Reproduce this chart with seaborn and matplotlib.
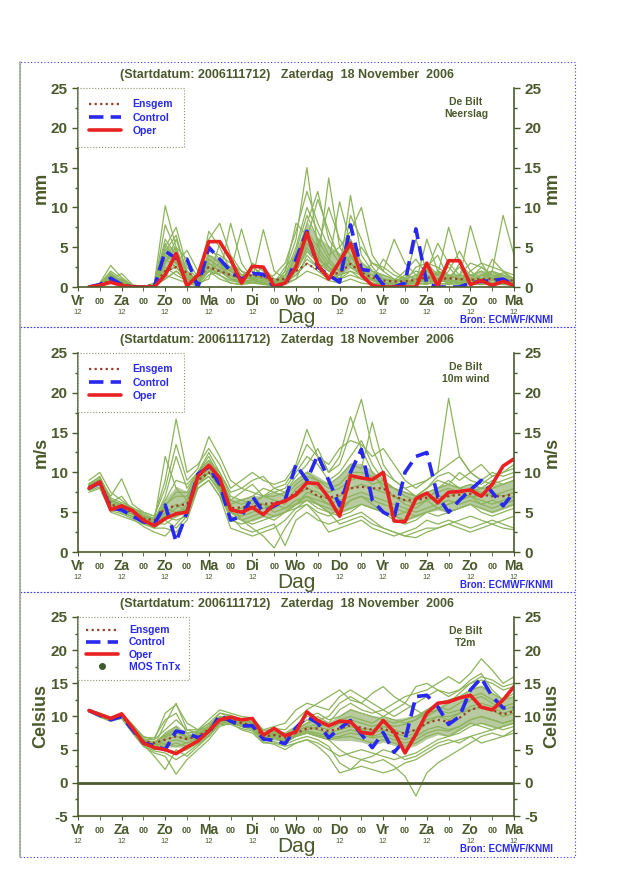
import numpy as np
import pandas as pd
import seaborn as sns
import matplotlib.pyplot as plt
from matplotlib.lines import Line2D
from matplotlib.patches import Rectangle

# ---------------------------------------------------------------
# DATA (6-hourly, +6h .. +240h from Vr 17 Nov 12 UTC)
# ---------------------------------------------------------------
uren = list(range(6, 241, 6))
dagen = ['Vr', 'Za', 'Zo', 'Ma', 'Di', 'Wo', 'Do', 'Vr', 'Za', 'Zo', 'Ma']

# Neerslag (mm)
rr_oper = [0, 0.2, 0.6, 0.2, 0, 0, 0, 1.5, 4.2, 0.1, 1.5, 5.7, 5.7, 3.5, 0.5, 2.6, 2.5, 0.1, 0.5, 2.5,
           6.8, 2.8, 1.0, 3.2, 5.5, 1.5, 0.2, 0, 0, 0, 0, 3.0, 0.1, 3.3, 3.3, 0.3, 0.8, 0.2, 0.7, 0.2]
rr_control = [0, 0.3, 1.1, 0.3, 0, 0, 0, 4.5, 3.6, 3.5, 0, 5.0, 3.5, 2.0, 1.0, 1.7, 1.6, 0, 0.1, 3.5,
              7.0, 2.5, 1.5, 0.6, 7.8, 2.2, 2.0, 0.3, 0, 0.5, 7.3, 0.4, 0, 0, 0, 0.5, 0.7, 0.8, 1.0, 0.2]
rr_ensgem = [0, 0.3, 0.8, 0.4, 0.1, 0.1, 0.3, 2.0, 2.5, 1.8, 1.2, 2.5, 2.0, 1.5, 1.2, 1.5, 1.3, 0.9, 1.0, 2.0,
             2.9, 2.2, 1.5, 1.8, 2.9, 1.8, 1.2, 0.8, 0.7, 0.7, 0.9, 1.2, 1.0, 1.1, 1.0, 0.9, 1.0, 1.0, 0.9, 0.8]
rr_leden = [
    [0, 0.2, 1.5, 0.5, 0, 0, 0.2, 3.0, 6.0, 2.0, 0.5, 4.0, 3.0, 1.0, 0.5, 1.0, 1.5, 0.5, 1.0, 3.0, 6.0, 4.0, 2.0, 3.0, 5.0, 2.0, 1.0, 0.5, 0.2, 0.5, 1.0, 2.0, 1.5, 2.5, 1.0, 0.5, 1.5, 2.0, 1.0, 0.5],
    [0, 0.5, 2.7, 1.2, 0.2, 0, 0.5, 10.2, 5.0, 1.0, 0.8, 3.0, 2.0, 1.5, 0.3, 0.8, 0.6, 0.2, 2.0, 6.0, 15.0, 5.0, 3.0, 2.0, 4.0, 1.5, 0.8, 0.3, 0.5, 1.0, 0.5, 0.3, 1.0, 0.8, 0.5, 2.0, 3.0, 1.0, 0.5, 0.3],
    [0, 0.1, 1.0, 1.7, 0.3, 0, 0, 5.0, 7.5, 2.5, 1.0, 6.0, 8.0, 4.0, 2.0, 1.5, 1.0, 0.8, 1.5, 3.5, 8.0, 12.0, 6.0, 4.0, 3.0, 2.0, 1.5, 1.0, 0.8, 1.2, 2.0, 1.5, 1.0, 0.5, 1.0, 1.5, 0.8, 1.2, 1.8, 1.0],
    [0, 0.3, 1.8, 0.6, 0, 0, 0.3, 4.0, 3.0, 4.6, 2.0, 2.5, 1.5, 8.0, 3.0, 1.0, 7.2, 2.0, 1.0, 2.0, 5.0, 3.0, 13.7, 5.0, 3.0, 1.5, 3.0, 2.5, 1.5, 1.0, 1.5, 0.5, 1.5, 7.5, 3.0, 1.0, 0.5, 2.0, 1.5, 0.5],
    [0, 0.2, 0.8, 0.3, 0, 0, 0, 2.0, 3.5, 1.5, 0.5, 7.0, 5.0, 2.0, 7.3, 2.5, 1.5, 1.0, 0.5, 1.0, 4.0, 2.5, 3.0, 10.7, 5.5, 2.0, 1.0, 0.5, 0.3, 0.5, 6.0, 2.0, 1.0, 1.0, 1.5, 3.0, 2.5, 1.5, 1.0, 0.8],
    [0, 0.1, 1.2, 0.8, 0.1, 0, 0.1, 7.8, 4.5, 0.5, 1.5, 5.0, 3.5, 2.5, 1.0, 0.5, 0.5, 0.3, 0.8, 4.5, 9.0, 6.0, 3.5, 2.0, 11.5, 4.0, 2.0, 1.0, 0.5, 0.3, 0.8, 3.0, 2.5, 1.5, 1.0, 7.7, 3.0, 2.5, 2.0, 1.5],
    [0, 0.4, 2.0, 1.0, 0.2, 0, 0.2, 1.0, 2.0, 1.0, 0.3, 2.0, 1.0, 0.5, 0.3, 3.0, 2.0, 0.5, 1.5, 5.0, 10.0, 7.0, 4.0, 5.0, 7.0, 10.0, 4.0, 2.0, 1.0, 0.5, 0.5, 6.0, 2.0, 1.0, 0.5, 0.5, 1.0, 2.0, 9.0, 4.0],
    [0, 0.2, 0.6, 0.2, 0, 0, 0, 3.5, 2.5, 1.0, 0.4, 3.5, 2.5, 1.5, 1.0, 1.2, 1.0, 0.6, 0.5, 1.5, 3.0, 2.0, 1.0, 1.5, 2.0, 1.0, 0.5, 0.3, 0.5, 1.5, 1.0, 0.5, 2.0, 1.5, 1.0, 0.8, 1.5, 1.0, 0.7, 0.5],
    [0, 0.3, 1.4, 0.9, 0.1, 0, 0.4, 6.0, 4.0, 2.0, 0.8, 2.0, 3.0, 2.0, 1.5, 2.0, 1.0, 1.5, 3.0, 7.0, 12.0, 8.0, 5.0, 3.0, 6.0, 3.0, 2.0, 1.5, 1.0, 0.8, 0.5, 1.0, 0.5, 2.0, 4.5, 2.0, 1.0, 0.5, 0.8, 0.5],
    [0, 0.1, 0.9, 0.4, 0, 0, 0.1, 2.5, 1.5, 0.8, 0.2, 4.5, 4.0, 3.0, 2.0, 0.8, 0.5, 0.2, 0.5, 2.5, 5.5, 3.5, 2.5, 1.0, 3.5, 5.0, 3.0, 2.0, 6.0, 3.0, 1.5, 2.5, 4.0, 1.0, 0.5, 1.0, 0.5, 0.3, 0.5, 0.3],
    [0, 0.2, 1.1, 0.5, 0, 0, 0.2, 4.5, 6.5, 1.5, 0.6, 3.0, 2.0, 1.0, 0.8, 1.5, 2.5, 1.0, 1.0, 3.0, 7.0, 5.0, 10.0, 6.0, 4.0, 2.0, 1.0, 0.5, 0.3, 0.6, 2.5, 3.0, 1.5, 0.5, 3.0, 1.5, 2.0, 1.0, 1.5, 1.0],
    [0, 0.1, 0.5, 0.2, 0, 0, 0, 1.5, 1.0, 0.5, 0.1, 1.5, 2.0, 1.0, 0.5, 0.6, 0.4, 0.1, 0.3, 1.0, 2.0, 1.5, 0.8, 0.5, 1.0, 0.5, 0.3, 0.1, 0.1, 0.2, 0.3, 0.5, 0.3, 0.5, 0.3, 0.4, 0.3, 0.5, 0.3, 0.2],
    [0, 0.3, 1.6, 0.7, 0.1, 0, 0.3, 3.0, 5.0, 3.5, 1.2, 3.5, 2.5, 2.0, 1.0, 2.5, 1.5, 0.5, 2.5, 4.0, 6.0, 11.0, 7.0, 3.5, 2.5, 1.5, 1.0, 3.5, 2.0, 1.0, 0.5, 2.0, 5.5, 3.0, 1.5, 1.0, 0.5, 3.5, 2.0, 1.0],
    [0, 0.2, 1.3, 0.6, 0, 0, 0.1, 2.0, 2.5, 1.0, 0.4, 2.5, 1.5, 0.8, 0.5, 1.0, 0.8, 0.5, 0.8, 1.5, 3.5, 2.5, 1.5, 1.0, 2.0, 1.5, 0.8, 0.5, 0.5, 0.3, 0.5, 1.0, 0.8, 0.6, 0.8, 1.0, 0.6, 0.8, 0.6, 0.4],
    [0, 0.1, 0.7, 0.3, 0, 0, 0.1, 5.5, 3.0, 1.2, 0.5, 1.0, 5.5, 3.5, 1.5, 1.0, 0.5, 0.3, 2.0, 8.0, 6.5, 4.5, 2.5, 1.5, 9.0, 6.0, 2.5, 1.0, 0.8, 2.0, 3.5, 1.5, 0.8, 1.2, 2.5, 1.0, 2.5, 1.5, 1.0, 0.6],
    [0, 0.2, 1.0, 0.5, 0, 0, 0.2, 1.0, 2.0, 0.8, 0.3, 2.0, 1.5, 0.5, 0.3, 0.5, 0.3, 0.2, 0.5, 2.0, 4.5, 3.0, 2.0, 1.0, 1.5, 1.0, 0.5, 0.3, 0.2, 0.3, 0.5, 0.8, 0.5, 0.3, 0.5, 0.5, 0.8, 0.5, 0.5, 0.3],
]

# 10m wind (m/s)
ff_oper = [8.0, 8.8, 5.3, 5.8, 5.2, 4.0, 3.3, 4.2, 4.8, 5.0, 9.5, 10.9, 9.3, 5.3, 5.0, 5.6, 4.7, 6.0, 6.4, 7.2,
           8.7, 8.6, 6.8, 4.5, 9.6, 9.3, 9.1, 10.0, 3.9, 3.8, 6.7, 7.4, 6.2, 7.5, 7.6, 7.8, 7.0, 8.5, 10.8, 11.7]
ff_control = [8.0, 8.7, 5.5, 5.3, 4.5, 3.8, 3.5, 5.9, 1.3, 5.0, 9.8, 10.7, 8.5, 4.0, 4.5, 7.0, 5.0, 5.8, 6.5, 11.0,
              9.0, 12.2, 9.0, 5.8, 10.0, 12.9, 6.5, 5.0, 4.3, 10.0, 12.0, 12.5, 7.0, 5.0, 6.5, 7.8, 9.0, 7.5, 5.8, 7.5]
ff_ensgem = [8.2, 8.8, 6.0, 5.5, 5.0, 4.2, 4.0, 5.5, 5.8, 6.0, 9.0, 10.0, 8.5, 5.5, 5.6, 5.7, 6.0, 6.2, 6.5, 7.5,
             8.0, 7.0, 6.8, 7.2, 8.0, 8.2, 8.0, 8.0, 7.0, 6.5, 6.5, 6.8, 6.8, 7.0, 7.2, 7.3, 7.2, 7.0, 7.0, 7.3]
ff_leden = [
    [8.5, 9.5, 6.5, 6.0, 5.0, 4.5, 4.0, 7.0, 12.0, 8.0, 10.0, 12.5, 10.0, 7.0, 6.5, 7.0, 8.0, 7.5, 8.0, 10.0, 12.0, 11.0, 9.0, 10.0, 12.0, 14.0, 11.0, 9.0, 8.0, 7.5, 7.0, 8.0, 9.0, 8.5, 10.0, 9.0, 8.5, 9.5, 10.0, 10.5],
    [7.5, 8.0, 5.0, 4.5, 4.0, 3.5, 3.0, 4.0, 3.0, 4.5, 8.5, 9.5, 7.5, 4.0, 3.5, 4.0, 4.5, 4.0, 5.0, 6.0, 6.5, 5.5, 5.0, 4.5, 5.0, 6.0, 5.5, 5.0, 4.0, 3.5, 4.0, 5.0, 4.5, 5.0, 5.5, 6.0, 5.0, 4.5, 5.0, 5.5],
    [8.0, 9.0, 7.0, 9.2, 6.0, 5.0, 4.5, 9.0, 16.7, 10.0, 11.0, 13.0, 11.0, 8.0, 9.0, 10.0, 9.0, 8.5, 9.0, 11.0, 15.4, 12.0, 10.0, 11.0, 15.0, 19.2, 13.0, 10.0, 9.0, 8.0, 7.0, 8.0, 9.5, 10.0, 9.0, 10.0, 11.0, 9.5, 10.0, 11.0],
    [8.2, 9.0, 6.0, 5.5, 5.0, 4.0, 3.5, 5.0, 4.5, 6.0, 9.0, 10.0, 8.0, 5.0, 4.0, 3.0, 2.0, 0.5, 3.0, 5.0, 6.0, 5.0, 4.5, 5.5, 6.5, 7.0, 6.0, 5.0, 4.5, 5.0, 6.0, 6.5, 5.5, 6.0, 6.5, 7.0, 6.0, 5.5, 6.0, 6.5],
    [9.0, 10.0, 7.5, 6.5, 5.5, 5.0, 4.5, 8.0, 13.5, 9.0, 10.5, 14.5, 12.0, 9.0, 8.0, 7.5, 7.0, 8.0, 7.5, 9.0, 10.0, 9.0, 8.5, 9.5, 11.0, 10.5, 16.3, 11.0, 9.0, 8.0, 8.5, 9.0, 10.0, 19.3, 12.0, 10.0, 9.0, 10.0, 9.5, 10.0],
    [7.8, 8.5, 5.5, 5.0, 4.5, 3.8, 3.0, 3.0, 2.5, 4.0, 8.0, 9.0, 7.0, 3.0, 2.5, 2.0, 2.5, 3.0, 4.0, 5.5, 6.0, 4.5, 2.5, 3.0, 3.5, 4.0, 3.0, 2.5, 2.0, 2.5, 3.0, 4.0, 3.5, 4.0, 3.5, 3.0, 3.5, 4.0, 3.5, 3.0],
    [8.5, 9.0, 6.5, 6.0, 5.5, 4.8, 4.2, 6.0, 7.0, 7.0, 9.5, 11.0, 9.0, 6.0, 6.5, 6.0, 7.0, 6.5, 6.0, 8.0, 9.0, 8.0, 7.5, 8.0, 9.0, 9.5, 8.5, 9.0, 8.0, 7.0, 6.5, 7.0, 7.5, 8.0, 7.5, 8.0, 7.5, 7.0, 7.5, 8.0],
    [8.0, 8.8, 5.8, 5.2, 4.8, 4.0, 3.8, 5.5, 5.0, 5.5, 9.0, 10.5, 8.5, 5.5, 5.0, 5.5, 6.0, 5.5, 6.5, 7.0, 8.0, 7.5, 6.5, 7.0, 8.0, 8.5, 8.0, 7.5, 7.0, 6.5, 6.0, 6.5, 7.0, 7.0, 7.5, 7.0, 7.0, 7.5, 7.0, 7.5],
    [8.3, 9.2, 6.2, 7.0, 5.2, 4.5, 4.0, 12.0, 8.0, 6.5, 10.0, 12.0, 9.5, 6.5, 7.5, 8.5, 7.0, 7.0, 7.5, 9.5, 11.0, 13.0, 10.0, 12.0, 17.0, 13.0, 10.0, 8.0, 7.0, 6.0, 5.5, 6.5, 8.0, 9.0, 8.0, 7.5, 8.0, 9.0, 8.5, 9.0],
    [7.7, 8.2, 5.2, 4.8, 4.2, 3.2, 2.5, 2.0, 3.5, 5.0, 8.0, 9.0, 7.0, 4.5, 3.0, 2.5, 3.0, 3.5, 0.8, 4.0, 5.0, 4.0, 3.5, 4.0, 4.5, 5.0, 4.0, 3.0, 2.5, 2.0, 2.5, 3.0, 3.0, 3.5, 4.0, 4.5, 4.0, 3.5, 3.0, 2.8],
    [8.6, 9.4, 6.8, 6.2, 5.6, 4.6, 4.2, 6.5, 9.0, 8.5, 10.0, 11.5, 10.0, 7.5, 8.0, 9.0, 9.5, 8.0, 8.5, 10.5, 13.5, 12.0, 11.0, 13.0, 14.0, 13.5, 12.0, 13.0, 11.0, 9.0, 8.0, 9.0, 10.0, 11.0, 12.0, 10.0, 9.0, 8.5, 9.0, 9.5],
    [7.9, 8.6, 5.6, 5.0, 4.4, 3.6, 3.3, 4.5, 5.5, 6.5, 9.0, 10.0, 8.0, 5.0, 4.5, 5.0, 5.5, 6.0, 5.5, 6.5, 7.0, 6.5, 6.0, 6.5, 7.0, 7.5, 7.0, 6.5, 6.0, 5.5, 5.0, 5.5, 6.0, 6.5, 6.0, 6.5, 6.0, 6.5, 6.0, 6.5],
    [8.1, 8.9, 6.3, 5.8, 5.3, 4.3, 3.8, 4.8, 6.0, 5.0, 8.5, 10.0, 8.5, 5.0, 5.5, 6.5, 6.0, 5.0, 5.5, 6.0, 7.5, 7.0, 6.0, 5.0, 6.5, 7.0, 6.5, 6.0, 5.5, 5.0, 4.5, 5.0, 5.5, 6.0, 6.5, 7.0, 6.5, 6.0, 6.5, 7.0],
    [8.4, 9.1, 6.0, 5.5, 5.0, 4.0, 3.6, 3.5, 4.5, 5.5, 9.5, 11.0, 9.0, 6.0, 4.0, 3.5, 4.0, 4.5, 5.0, 6.0, 7.0, 6.0, 5.0, 3.5, 4.0, 4.5, 3.5, 3.0, 2.5, 2.0, 1.8, 2.5, 3.0, 3.5, 3.0, 2.5, 3.0, 3.5, 4.0, 4.5],
    [8.0, 8.7, 6.6, 5.9, 5.4, 4.4, 3.9, 5.8, 7.5, 7.5, 10.0, 11.5, 9.5, 6.5, 6.0, 6.5, 7.0, 7.5, 7.0, 8.5, 9.5, 9.0, 8.0, 8.5, 10.0, 10.0, 9.5, 8.5, 8.0, 7.5, 7.0, 7.5, 8.0, 8.5, 8.0, 8.5, 8.0, 8.0, 8.5, 9.0],
    [8.2, 9.0, 5.9, 5.3, 4.7, 4.1, 3.7, 4.5, 4.0, 4.5, 8.5, 9.5, 7.8, 4.5, 4.0, 4.5, 5.0, 4.5, 5.0, 5.5, 6.5, 6.0, 5.5, 5.0, 5.5, 6.0, 5.5, 5.0, 4.5, 4.0, 4.5, 5.0, 5.5, 5.0, 5.5, 6.0, 5.5, 5.0, 5.5, 6.0],
]

# T2m (Celsius)
tt_oper = [10.9, 10.3, 9.7, 10.4, 8.3, 6.0, 5.3, 5.0, 4.4, 5.4, 6.3, 7.8, 9.5, 9.9, 9.5, 9.7, 7.2, 8.2, 7.1, 7.7,
           10.7, 9.4, 8.6, 9.3, 9.2, 7.6, 7.4, 9.4, 7.7, 4.5, 7.3, 10.5, 12.0, 12.2, 12.8, 13.2, 11.4, 11.0, 12.5, 14.5]
tt_control = [10.9, 10.2, 9.5, 10.0, 8.0, 6.0, 5.6, 5.0, 7.8, 7.5, 6.8, 7.5, 10.2, 9.3, 8.6, 8.6, 6.6, 6.4, 5.9, 8.3,
              10.0, 9.0, 6.8, 8.2, 9.4, 7.3, 5.3, 7.6, 4.6, 6.5, 13.0, 13.2, 11.5, 8.8, 10.0, 14.0, 15.8, 13.0, 11.3, 11.3]
tt_ensgem = [10.9, 10.2, 9.6, 10.1, 8.2, 6.3, 6.0, 6.5, 7.0, 6.6, 7.0, 8.0, 9.5, 9.5, 9.0, 8.7, 7.0, 7.2, 6.8, 7.5,
             8.2, 8.2, 7.8, 8.2, 8.7, 8.3, 8.0, 8.2, 7.5, 7.5, 8.0, 9.0, 9.5, 9.2, 9.8, 11.0, 11.5, 11.0, 10.3, 10.8]
tt_leden = [
    [11.0, 10.4, 9.8, 10.3, 8.5, 6.5, 5.5, 9.0, 12.0, 8.0, 7.5, 8.5, 10.5, 10.0, 9.5, 9.0, 7.5, 7.5, 7.0, 8.0, 9.0, 10.0, 9.0, 11.0, 12.0, 11.0, 10.5, 11.0, 10.0, 11.0, 12.0, 13.0, 14.0, 13.5, 14.0, 15.0, 16.0, 15.5, 14.5, 15.0],
    [10.8, 10.0, 9.4, 9.8, 7.8, 5.8, 4.0, 2.0, 5.0, 4.0, 5.5, 7.0, 9.0, 9.2, 8.5, 8.0, 6.5, 6.8, 6.0, 7.0, 7.5, 7.0, 6.5, 5.0, 4.0, 3.5, 3.0, 3.5, 2.5, 1.0, -2.0, 1.5, 3.0, 4.0, 5.0, 6.0, 7.0, 7.5, 7.0, 8.0],
    [11.1, 10.5, 9.9, 10.5, 8.8, 7.0, 6.5, 10.5, 11.8, 9.0, 8.0, 9.5, 11.0, 10.5, 10.0, 9.8, 8.0, 8.5, 9.0, 11.0, 12.0, 11.5, 11.0, 13.0, 14.0, 13.0, 12.0, 11.0, 12.0, 13.0, 13.5, 14.0, 15.0, 16.0, 15.0, 16.5, 18.7, 17.0, 15.0, 16.0],
    [10.7, 9.9, 9.3, 9.7, 7.5, 5.5, 4.5, 4.0, 1.3, 3.5, 5.0, 6.5, 8.5, 9.0, 8.0, 7.5, 6.0, 6.0, 5.5, 6.0, 6.5, 5.5, 4.0, 1.5, 2.0, 2.5, 2.0, 1.5, 2.0, 3.0, 3.5, 4.5, 5.5, 6.0, 6.5, 7.0, 6.0, 6.5, 7.0, 7.5],
    [10.9, 10.3, 9.6, 10.1, 8.2, 6.2, 5.8, 7.5, 8.5, 6.5, 7.0, 8.0, 9.8, 9.6, 9.2, 8.8, 7.2, 7.5, 7.2, 8.0, 9.0, 9.5, 10.0, 12.0, 13.0, 12.0, 11.0, 10.0, 11.0, 12.0, 14.5, 15.0, 14.0, 13.0, 14.0, 15.5, 16.5, 14.0, 12.5, 13.5],
    [10.9, 10.1, 9.5, 10.0, 8.0, 6.0, 5.0, 5.5, 6.0, 5.5, 6.5, 7.5, 9.2, 9.3, 8.8, 8.5, 6.8, 6.5, 6.3, 7.0, 7.5, 7.0, 6.5, 6.8, 7.0, 6.5, 6.0, 6.5, 6.0, 5.5, 6.0, 7.0, 7.5, 7.0, 7.5, 8.5, 9.0, 8.5, 8.0, 8.5],
    [11.0, 10.2, 9.7, 10.2, 8.3, 6.4, 6.2, 7.0, 7.5, 7.0, 7.5, 8.2, 9.6, 9.7, 9.0, 8.9, 7.0, 7.2, 6.9, 7.8, 8.5, 8.8, 8.5, 9.0, 9.5, 9.0, 8.5, 9.0, 8.5, 8.8, 9.5, 10.5, 11.0, 10.5, 11.0, 12.5, 13.0, 12.0, 11.0, 11.5],
    [10.8, 10.0, 9.5, 9.9, 7.9, 6.1, 5.7, 6.0, 6.5, 6.0, 6.8, 7.8, 9.3, 9.4, 8.7, 8.4, 6.9, 7.0, 6.6, 7.2, 7.8, 7.5, 7.0, 7.5, 8.0, 7.5, 7.0, 7.5, 7.0, 6.5, 7.0, 8.0, 8.5, 8.0, 8.5, 9.5, 10.0, 9.5, 9.0, 9.5],
    [11.0, 10.3, 9.7, 10.2, 8.4, 6.6, 6.5, 8.0, 9.5, 8.0, 8.0, 8.8, 10.0, 9.8, 9.4, 9.2, 7.5, 7.8, 7.5, 8.5, 10.0, 10.5, 9.5, 10.0, 11.0, 10.5, 10.0, 9.5, 9.0, 9.5, 10.0, 11.0, 12.0, 12.5, 13.0, 14.0, 14.5, 13.5, 12.5, 13.0],
    [10.9, 10.2, 9.6, 10.0, 8.1, 6.3, 5.5, 5.0, 4.5, 5.0, 6.0, 7.2, 9.0, 9.0, 8.5, 8.2, 6.5, 6.2, 5.8, 6.5, 7.0, 6.5, 5.5, 3.0, 2.0, 3.5, 4.0, 5.0, 4.5, 3.5, 4.0, 5.0, 6.0, 6.5, 6.0, 7.0, 7.5, 8.0, 8.5, 9.0],
    [10.8, 10.1, 9.4, 9.9, 7.7, 5.9, 5.2, 6.5, 7.0, 6.5, 7.2, 8.0, 9.5, 9.5, 9.0, 8.6, 7.0, 7.3, 7.0, 7.5, 8.0, 8.5, 8.0, 9.0, 8.5, 8.0, 7.5, 8.0, 7.5, 7.0, 7.5, 9.0, 10.0, 9.5, 10.5, 11.5, 12.0, 11.5, 10.5, 11.0],
    [11.0, 10.4, 9.8, 10.3, 8.6, 6.8, 6.8, 9.5, 10.5, 7.5, 7.8, 9.0, 10.5, 10.2, 9.6, 9.5, 7.8, 8.2, 8.0, 9.5, 11.0, 12.0, 13.0, 14.0, 12.5, 12.0, 13.5, 14.5, 13.0, 12.0, 11.0, 10.0, 11.0, 12.0, 13.5, 15.0, 15.5, 15.0, 14.0, 14.5],
    [10.9, 10.2, 9.6, 10.1, 8.2, 6.2, 5.6, 6.8, 7.8, 6.8, 7.3, 8.3, 9.7, 9.6, 9.1, 8.7, 7.1, 7.4, 7.1, 7.9, 8.4, 8.0, 7.5, 8.0, 8.5, 8.2, 8.0, 8.5, 8.0, 7.5, 8.0, 9.5, 10.0, 10.0, 10.5, 11.0, 11.5, 11.0, 10.0, 10.5],
    [10.8, 10.0, 9.3, 9.8, 7.6, 5.6, 4.8, 4.5, 3.5, 4.5, 5.8, 7.0, 8.8, 8.8, 8.2, 7.8, 6.2, 5.8, 5.0, 6.0, 6.5, 6.0, 5.0, 4.0, 4.5, 5.0, 4.5, 4.0, 3.5, 4.0, 4.5, 5.5, 6.5, 7.0, 8.0, 9.0, 8.5, 8.0, 8.5, 9.0],
    [11.0, 10.3, 9.7, 10.2, 8.3, 6.5, 6.0, 7.2, 8.0, 7.5, 7.8, 8.5, 9.9, 9.8, 9.3, 9.0, 7.3, 7.6, 7.3, 8.2, 9.5, 9.0, 8.5, 9.5, 10.0, 9.5, 9.0, 10.0, 9.5, 9.0, 9.5, 11.0, 11.5, 11.0, 12.0, 13.0, 13.5, 12.5, 11.5, 12.0],
    [10.9, 10.1, 9.5, 10.0, 8.0, 6.0, 5.3, 5.8, 5.5, 6.0, 6.8, 7.6, 9.2, 9.2, 8.7, 8.4, 6.7, 6.8, 6.4, 7.2, 7.8, 7.2, 6.8, 7.0, 7.5, 7.2, 6.8, 7.0, 6.5, 6.0, 6.5, 7.5, 8.0, 7.8, 8.5, 9.5, 10.0, 9.5, 9.0, 9.5],
]

# ---------------------------------------------------------------
# STYLE
# ---------------------------------------------------------------
sns.set_style('white')
plt.rcParams['font.family'] = ['Liberation Sans', 'DejaVu Sans']
plt.rcParams['axes.unicode_minus'] = False

OLIJF = '#4b5a2c'
GROEN = '#8db45c'
KERN = '#7e9f52'
ENS = '#9a3c28'
BLAUW = '#2828ee'
ROOD = '#e82222'
TITEL = '(Startdatum: 2006111712)   Zaterdag  18 November  2006'


def to_long(leden):
    rows = []
    for i, lid in enumerate(leden):
        for h, v in zip(uren, lid):
            rows.append((i, h, v))
    return pd.DataFrame(rows, columns=['lid', 'uur', 'waarde'])


def panel(ax, leden, ensgem, control, oper, ymin, ylabel, param, mos=False):
    arr = np.array(leden)
    # dichte kern van de pluim (spreiding van de leden)
    ax.fill_between(uren, np.percentile(arr, 25, axis=0), np.percentile(arr, 75, axis=0),
                    color=KERN, alpha=0.55, lw=0)
    sns.lineplot(data=to_long(leden), x='uur', y='waarde', units='lid', estimator=None,
                 color=GROEN, lw=0.9, ax=ax, legend=False)
    sns.lineplot(x=uren, y=ensgem, color=ENS, lw=1.6, linestyle=(0, (1, 1.5)), ax=ax)
    sns.lineplot(x=uren, y=control, color=BLAUW, lw=2.6, linestyle=(0, (4, 2)), ax=ax)
    sns.lineplot(x=uren, y=oper, color=ROOD, lw=2.6, ax=ax)
    if ymin < 0:
        ax.axhline(0, color=OLIJF, lw=2)

    ax.set_xlim(0, 240)
    ax.set_ylim(ymin, 25)
    ax.set_xlabel('')
    ax.set_ylabel('')
    ax.set_yticks(range(ymin, 26, 5))
    ax.set_yticks(np.arange(ymin, 25.1, 2.5), minor=True)
    ax.set_xticks(range(0, 241, 24))
    ax.set_xticklabels(dagen)
    ax.set_xticks(range(12, 241, 24), minor=True)
    ax.set_xticklabels(['00'] * 10, minor=True)
    ax.tick_params(axis='y', which='both', left=True, right=True, labelright=True, direction='out',
                   colors=OLIJF, labelsize=11, length=4, width=1)
    ax.tick_params(axis='y', which='minor', length=2)
    ax.tick_params(axis='x', which='major', bottom=True, length=3, colors=OLIJF, labelsize=10, pad=2)
    ax.tick_params(axis='x', which='minor', bottom=True, length=3, colors=OLIJF, labelsize=6.5, pad=4)
    for lab in ax.get_xticklabels() + ax.get_yticklabels():
        lab.set_fontweight('bold')
    for lab in ax.get_xticklabels(minor=True):
        lab.set_fontweight('bold')

    for s in ['left', 'right', 'bottom']:
        ax.spines[s].set_color(OLIJF)
        ax.spines[s].set_linewidth(1.2)
    ax.spines['top'].set_visible(False)

    # "12" onder de dagnamen (behalve waar "Dag" staat)
    for h in range(0, 241, 24):
        if h == 120:
            continue
        ax.text(h, -0.13, '12', transform=ax.get_xaxis_transform(), ha='center', va='center',
                fontsize=5.5, color=OLIJF)
    ax.text(0.5, -0.152, 'Dag', transform=ax.transAxes, ha='center', va='center', fontsize=15,
            color=OLIJF)
    for xx in (-0.085, 1.087):
        ax.text(xx, 0.5, ylabel, transform=ax.transAxes, rotation=90, ha='center', va='center',
                fontsize=13, fontweight='bold', color=OLIJF)
    ax.text(0.89, 0.955, 'De Bilt\n' + param, transform=ax.transAxes, ha='center', va='top',
            fontsize=7.5, fontweight='bold', color=OLIJF, linespacing=1.3)

    handles = [Line2D([], [], color=ENS, lw=1.6, linestyle=(0, (1, 1.5))),
               Line2D([], [], color=BLAUW, lw=2.6, linestyle=(0, (4, 2))),
               Line2D([], [], color=ROOD, lw=2.6)]
    labels = ['Ensgem', 'Control', 'Oper']
    if mos:
        handles.append(Line2D([], [], color='#3d5a30', marker='o', ms=4, ls=''))
        labels.append('MOS TnTx')
    leg = ax.legend(handles, labels, loc='upper left', bbox_to_anchor=(0, 1), borderaxespad=0,
                    fancybox=False, framealpha=1, edgecolor='#8a9478', fontsize=7.5,
                    handlelength=3.0, handletextpad=1.1,
                    labelspacing=0.2 if mos else 0.3, borderpad=0.8 if mos else 1.1)
    leg.get_frame().set_linestyle(':')
    leg.get_frame().set_linewidth(0.8)
    for t in leg.get_texts():
        t.set_color(BLAUW)
        t.set_fontweight('bold')


# ---------------------------------------------------------------
# FIGURE
# ---------------------------------------------------------------
fig = plt.figure(figsize=(6.4, 8.8), dpi=100)
W, H = 640, 880

# panel frames (blue dotted)
for top in (62, 327, 592):
    fig.patches.append(Rectangle((20 / W, 1 - (top + 265) / H), 555 / W, 265 / H, transform=fig.transFigure,
                                 fill=False, edgecolor='#3a3ae8', lw=0.8, linestyle=(0, (1, 2))))
    fig.add_artist(Line2D([20 / W, 20 / W], [1 - (top + 265) / H, 1 - top / H], transform=fig.transFigure,
                          color='#a0aa98', lw=1.2))

panels = [
    (rr_leden, rr_ensgem, rr_control, rr_oper, 0, 'mm', 'Neerslag', False),
    (ff_leden, ff_ensgem, ff_control, ff_oper, 0, 'm/s', '10m wind', False),
    (tt_leden, tt_ensgem, tt_control, tt_oper, -5, 'Celsius', 'T2m', True),
]
tops = [88, 353, 617]
for (leden, ens, ctl, op, ymin, ylab, par, mos), top in zip(panels, tops):
    ax = fig.add_axes([78 / W, 1 - (top + 199) / H, 436 / W, 199 / H])
    panel(ax, leden, ens, ctl, op, ymin, ylab, par, mos)
    fig.text(287 / W, 1 - (top - 13) / H, TITEL, ha='center', va='center', fontsize=9,
             fontweight='bold', color=OLIJF)
    fig.text(506 / W, 1 - (top + 232) / H, 'Bron: ECMWF/KNMI', ha='center', va='center',
             fontsize=7, fontweight='bold', color=BLAUW)

fig.savefig('out.png', dpi=100, facecolor='white')
